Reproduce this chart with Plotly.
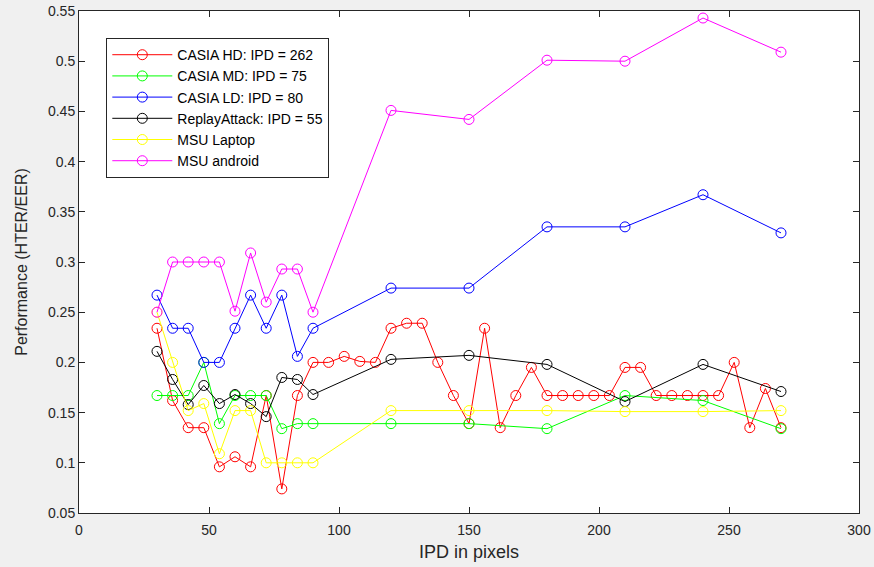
import plotly.graph_objects as go

# ---- data ----
x_hd = [30, 36, 42, 48, 54, 60, 66, 72, 78, 84, 90, 96, 102, 108, 114, 120, 126, 132, 138, 144,
        150, 156, 162, 168, 174, 180, 186, 192, 198, 204, 210, 216, 222, 228, 234, 240, 246,
        252, 258, 264, 270]
casia_hd = [0.234, 0.162, 0.135, 0.135, 0.096, 0.106, 0.096, 0.167, 0.074, 0.167, 0.200, 0.200,
            0.206, 0.201, 0.200, 0.234, 0.239, 0.239, 0.200, 0.167, 0.139, 0.234, 0.135, 0.167,
            0.195, 0.167, 0.167, 0.167, 0.167, 0.167, 0.195, 0.195, 0.167, 0.167, 0.167, 0.167,
            0.167, 0.200, 0.135, 0.174, 0.135]

x_other = [30, 36, 42, 48, 54, 60, 66, 72, 78, 84, 90, 120, 150, 180, 210, 240, 270]
casia_md = [0.167, 0.167, 0.167, 0.200, 0.139, 0.167, 0.167, 0.167, 0.134, 0.139, 0.139,
            0.139, 0.139, 0.134, 0.167, 0.162, 0.134]
casia_ld = [0.267, 0.234, 0.234, 0.200, 0.200, 0.234, 0.267, 0.234, 0.267, 0.206, 0.234,
            0.274, 0.274, 0.335, 0.335, 0.367, 0.329]
replay = [0.211, 0.183, 0.158, 0.177, 0.159, 0.168, 0.159, 0.146, 0.185, 0.183, 0.168,
          0.203, 0.207, 0.198, 0.161, 0.198, 0.171]
msu_laptop = [0.250, 0.200, 0.152, 0.159, 0.109, 0.152, 0.152, 0.100, 0.100, 0.100, 0.100,
              0.152, 0.152, 0.152, 0.151, 0.151, 0.152]
msu_android = [0.250, 0.300, 0.300, 0.300, 0.300, 0.251, 0.309, 0.260, 0.293, 0.293, 0.250,
               0.451, 0.442, 0.501, 0.500, 0.543, 0.509]

names = ["CASIA HD: IPD = 262", "CASIA MD: IPD = 75", "CASIA LD: IPD = 80",
         "ReplayAttack: IPD = 55", "MSU Laptop", "MSU android"]
colors = ["#ff0000", "#00ff00", "#0000ff", "#000000", "#ffff00", "#ff00ff"]
series = [(x_hd, casia_hd), (x_other, casia_md), (x_other, casia_ld),
          (x_other, replay), (x_other, msu_laptop), (x_other, msu_android)]

y_ticks = [0.05, 0.1, 0.15, 0.2, 0.25, 0.3, 0.35, 0.4, 0.45, 0.5, 0.55]
y_ticktext = ["0.05", "0.1", "0.15", "0.2", "0.25", "0.3", "0.35", "0.4", "0.45", "0.5", "0.55"]
x_ticks = [0, 50, 100, 150, 200, 250, 300]

fig = go.Figure()
for (xs, ys), name, c in zip(series, names, colors):
    fig.add_trace(go.Scatter(
        x=xs, y=ys, name=name, mode="lines+markers",
        line=dict(color=c, width=1),
        marker=dict(symbol="circle-open", size=10, color=c, line=dict(width=1, color=c)),
    ))

axis_common = dict(
    showline=True, linecolor="#262626", linewidth=1, mirror="ticks",
    ticks="inside", ticklen=6, tickcolor="#262626", tickwidth=1,
    showgrid=False, zeroline=False, automargin=False,
    tickfont=dict(family="Liberation Sans", size=14, color="#262626"),
)

fig.update_layout(
    width=874, height=567,
    paper_bgcolor="#f0f0f0", plot_bgcolor="#ffffff",
    margin=dict(l=79, r=15, t=11, b=54),
    font=dict(family="Liberation Sans", color="#262626"),
    showlegend=True,
    legend=dict(
        x=0.035, y=0.946, xanchor="left", yanchor="top",
        bgcolor="#ffffff", bordercolor="#262626", borderwidth=1,
        font=dict(family="Liberation Sans", size=14, color="#000000"),
        itemwidth=60, tracegroupgap=0,
    ),
    xaxis=dict(range=[0, 300], tickvals=x_ticks, ticklabelstandoff=4,
               title=dict(text="IPD in pixels", font=dict(size=18, color="#262626"), standoff=8),
               **axis_common),
    yaxis=dict(range=[0.05, 0.55], tickvals=y_ticks, ticktext=y_ticktext,
               title=dict(text="Performance (HTER/EER)", font=dict(size=16, color="#262626"), standoff=16),
               **axis_common),
)

fig.write_html("out.html")
